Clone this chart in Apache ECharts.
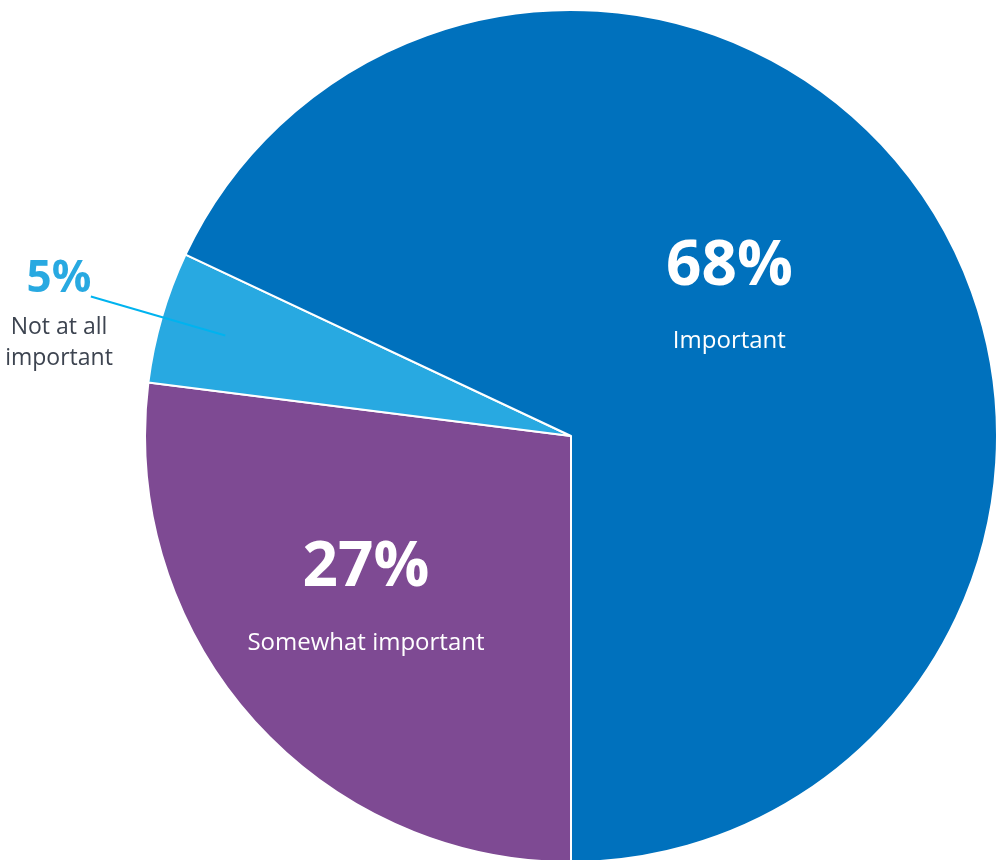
<!DOCTYPE html>
<html>
<head>
<meta charset="utf-8">
<title>Importance</title>
<script src="https://cdn.jsdelivr.net/npm/echarts@6/dist/echarts.min.js"></script>
<style>
  html, body { margin: 0; padding: 0; background: #ffffff; }
  #chart { width: 1002px; height: 860px; }
</style>
</head>
<body>
<div id="chart"></div>
<script>
// Survey answers, drawn clockwise from the bottom of the pie
const categories = ['Somewhat important', 'Not at all important', 'Important'];
const shares = [27, 5, 68];
const sliceColors = ['#7e4a93', '#28a9e1', '#0071bd'];

const FONT = "'Open Sans', 'Noto Sans', sans-serif";
const CENTER = [571, 436];
const RADIUS = 426;
const START = 270;

const chart = echarts.init(document.getElementById('chart'), null, { renderer: 'canvas' });

// Big white labels sitting inside the two large slices
const insideLabel = (offset) => ({
  show: true,
  position: 'inside',
  offset: offset,
  formatter: (p) => '{v|' + p.value + '%}\n{n|' + p.name + '}',
  rich: {
    v: { fontFamily: FONT, fontWeight: 'bold', fontSize: 62, color: '#ffffff', lineHeight: 74, align: 'center' },
    n: { fontFamily: FONT, fontSize: 24, color: '#ffffff', lineHeight: 74, align: 'center' }
  }
});

const labelOffsets = [[-43, 27], null, [-24, -16]];

const mainData = categories.map((name, i) => ({
  name: name,
  value: shares[i],
  itemStyle: { color: sliceColors[i] },
  label: labelOffsets[i] ? insideLabel(labelOffsets[i]) : { show: false },
  labelLine: { show: false }
}));

// Invisible copy of the pie, smaller and drawn on top, so the small slice's
// leader line starts inside its wedge
const calloutData = categories.map((name, i) => ({
  name: name,
  value: shares[i],
  itemStyle: { color: 'rgba(0,0,0,0)', borderWidth: 0 },
  label: labelOffsets[i] ? { show: false } : {
    show: true,
    position: 'outside',
    alignTo: 'none',
    distanceToLabelLine: -22,
    padding: [28, 0, 0, 0],
    formatter: (p) => '{v|' + p.value + '%}\n{n|Not at all}\n{n|important}',
    rich: {
      v: { fontFamily: FONT, fontWeight: 'bold', fontSize: 44, color: '#28a9e1', lineHeight: 64, align: 'center' },
      n: { fontFamily: FONT, fontSize: 23, color: '#3d4450', lineHeight: 31, align: 'center' }
    }
  },
  labelLine: labelOffsets[i] ? { show: false } : {
    show: true, length: 140, length2: 0, smooth: false,
    lineStyle: { color: '#00b3ef', width: 2 }
  }
}));

chart.setOption({
  animation: false,
  backgroundColor: '#ffffff',
  series: [{
    type: 'pie',
    z: 2,
    center: CENTER,
    radius: [0, RADIUS],
    startAngle: START,
    clockwise: true,
    avoidLabelOverlap: false,
    itemStyle: { borderColor: '#ffffff', borderWidth: 2 },
    emphasis: { disabled: true },
    data: mainData
  }, {
    type: 'pie',
    z: 4,
    silent: true,
    center: CENTER,
    radius: [0, 360],
    startAngle: START,
    clockwise: true,
    avoidLabelOverlap: false,
    emphasis: { disabled: true },
    data: calloutData
  }]
});
</script>
</body>
</html>
